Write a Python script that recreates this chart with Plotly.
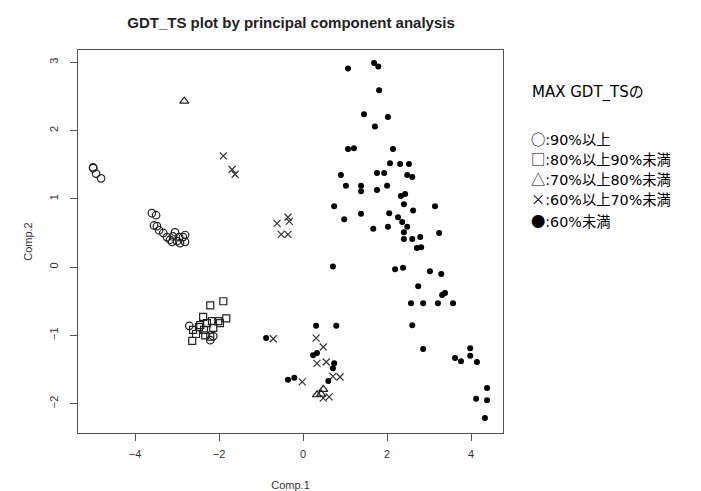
import plotly.graph_objects as go

# ---- data ----
circle_x = [-5.00, -5.00, -4.93, -4.81, -3.60, -3.50, -3.55, -3.48, -3.43, -3.33, -3.24, -3.17,
            -3.10, -3.05, -3.00, -2.93, -2.86, -2.81, -2.81, -2.95, -3.12, -2.71, -2.21, -2.14]
circle_y = [1.46, 1.45, 1.37, 1.30, 0.79, 0.76, 0.61, 0.60, 0.54, 0.50, 0.44, 0.40,
            0.45, 0.51, 0.38, 0.35, 0.44, 0.47, 0.37, 0.44, 0.37, -0.86, -1.07, -1.01]

square_x = [-2.21, -1.90, -1.83, -2.38, -2.17, -2.02, -2.29, -2.45, -2.62, -2.36, -2.14,
            -2.55, -2.33, -2.64, -2.21, -2.48, -1.98]
square_y = [-0.56, -0.50, -0.75, -0.73, -0.79, -0.79, -0.82, -0.85, -0.92, -0.92, -0.89,
            -0.98, -1.00, -1.08, -1.02, -0.88, -0.82]

triangle_x = [-2.83, 0.33, 0.48, 0.43]
triangle_y = [2.43, -1.87, -1.79, -1.86]

cross_x = [-1.90, -1.69, -1.62, -0.36, -0.33, -0.62, -0.52, -0.36, -0.71, 0.31, 0.48,
           0.33, 0.55, 0.71, 0.88, -0.02, 0.48, 0.62]
cross_y = [1.63, 1.43, 1.36, 0.73, 0.67, 0.64, 0.48, 0.48, -1.05, -1.04, -1.17,
           -1.41, -1.39, -1.60, -1.61, -1.68, -1.92, -1.90]

dot_x = [1.07, 1.69, 1.79, 1.81, 1.45, 2.02, 1.71, 1.07, 1.21, 2.14, 2.07, 2.31, 2.52,
         0.90, 1.76, 1.93, 2.48, 2.60, 1.02, 1.38, 1.38, 1.76, 2.00, 2.33, 2.43, 2.40,
         0.74, 3.14, 2.62, 0.98, 1.38, 2.05, 2.26, 2.36, 1.67, 2.02, 2.48,
         2.40, 2.40, 2.60, 2.79, 3.24, 2.71, 2.81, 2.19, 2.38, 3.02, 3.29, 2.74, 3.31,
         3.38, 2.57, 2.86, 3.21, 3.57, 2.60, 2.86, 3.98, 3.98, 3.62, 3.76, 4.14, 4.38,
         4.12, 4.38, 4.33, 0.71,
         -0.88, 0.31, 0.79, 0.24, 0.33, 0.74, 0.71, 0.60, -0.36, -0.21]
dot_y = [2.91, 2.99, 2.94, 2.59, 2.24, 2.20, 2.06, 1.73, 1.74, 1.73, 1.52, 1.51, 1.51,
         1.35, 1.38, 1.38, 1.35, 1.32, 1.19, 1.19, 1.11, 1.13, 1.19, 1.04, 1.07, 0.92,
         0.89, 0.89, 0.83, 0.70, 0.78, 0.79, 0.73, 0.66, 0.56, 0.59, 0.59,
         0.51, 0.41, 0.41, 0.44, 0.50, 0.28, 0.29, -0.03, -0.01, -0.06, -0.10, -0.28, -0.41,
         -0.38, -0.53, -0.53, -0.53, -0.53, -0.85, -1.20, -1.19, -1.30, -1.33, -1.38, -1.39, -1.77,
         -1.93, -1.95, -2.21, 0.01,
         -1.04, -0.86, -0.86, -1.29, -1.26, -1.41, -1.48, -1.67, -1.65, -1.62]

x_ticks = [-4, -2, 0, 2, 4]
y_ticks = [-2, -1, 0, 1, 2, 3]

legend_title = "MAX GDT_TSの"
legend_symbols = ["○", "□", "△", "×", "●"]
legend_labels = [":90%以上", ":80%以上90%未満", ":70%以上80%未満", ":60%以上70%未満", ":60%未満"]

fig = go.Figure()
mc = "#222222"
fig.add_trace(go.Scatter(x=circle_x, y=circle_y, mode="markers", name="90%以上",
                         marker=dict(symbol="circle-open", size=7.5, color=mc, line=dict(width=1.2))))
fig.add_trace(go.Scatter(x=square_x, y=square_y, mode="markers", name="80%以上90%未満",
                         marker=dict(symbol="square-open", size=7, color=mc, line=dict(width=1.2))))
fig.add_trace(go.Scatter(x=triangle_x, y=triangle_y, mode="markers", name="70%以上80%未満",
                         marker=dict(symbol="triangle-up-open", size=8, color=mc, line=dict(width=1.2))))
fig.add_trace(go.Scatter(x=cross_x, y=cross_y, mode="markers", name="60%以上70%未満",
                         marker=dict(symbol="x-thin-open", size=7, color="#333333", line=dict(width=1.2))))
fig.add_trace(go.Scatter(x=dot_x, y=dot_y, mode="markers", name="60%未満",
                         marker=dict(symbol="circle", size=6, color="#000000")))

tfont = dict(family="Liberation Sans", size=11, color="#333333")
axis_common = dict(showgrid=False, zeroline=False, showline=True, mirror=True, automargin=False,
                   linecolor="#555555", linewidth=1, ticks="outside", ticklen=7,
                   tickcolor="#555555", tickfont=tfont)
fig.update_xaxes(range=[-5.36, 4.76], tickvals=x_ticks, ticklabelstandoff=4, **axis_common,
                 title=dict(text="Comp.1", font=tfont, standoff=24))
fig.update_yaxes(range=[-2.43, 3.18], tickvals=y_ticks, tickangle=-90, ticklabelstandoff=8, **axis_common,
                 title=dict(text="Comp.2", font=tfont, standoff=12))

L, R, T, B = 78, 198, 50, 58
W, H = 701, 491
pw, ph = W - L - R, H - T - B

def add_text(txt, px, py, size):
    fig.add_annotation(text=txt, xref="paper", yref="paper",
                       x=(px - L) / pw, y=(H - B - py) / ph,
                       xanchor="left", yanchor="middle", showarrow=False,
                       font=dict(family="DejaVu Sans, Noto Sans CJK JP", size=size, color="#000000"))

add_text(legend_title, 530, 92, 15)
ys = [138, 158, 178, 199, 220]
for s, t, yy in zip(legend_symbols, legend_labels, ys):
    txt = "<span style=\"font-family:'Noto Sans CJK JP'\">" + s + "</span>" + t
    add_text(txt, 529, yy, 14.3)

fig.update_layout(
    width=W, height=H, margin=dict(l=L, r=R, t=T, b=B),
    paper_bgcolor="white", plot_bgcolor="white", showlegend=False,
    title=dict(text="<b>GDT_TS plot by principal component analysis</b>", x=(291) / W, xanchor="center",
               y=1 - 23 / H, yanchor="middle",
               font=dict(family="Liberation Sans", size=15, color="#222222")),
)
fig.write_html("out.html")
